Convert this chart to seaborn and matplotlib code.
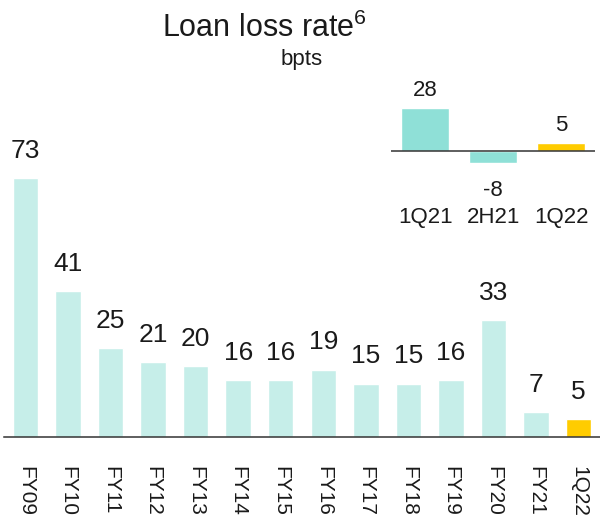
import pandas as pd
import matplotlib
matplotlib.use("Agg")
import matplotlib.pyplot as plt
import seaborn as sns

# data
periods = ["FY09", "FY10", "FY11", "FY12", "FY13", "FY14", "FY15", "FY16",
           "FY17", "FY18", "FY19", "FY20", "FY21", "1Q22"]
loss_rate = [73, 41, 25, 21, 20, 16, 16, 19, 15, 15, 16, 33, 7, 5]

recent_periods = ["1Q21", "2H21", "1Q22"]
recent_rate = [28, -8, 5]

sns.set_theme(style="white")
plt.rcParams["font.family"] = ["Liberation Sans", "DejaVu Sans"]
plt.rcParams["mathtext.fontset"] = "custom"
plt.rcParams["mathtext.rm"] = "Liberation Sans"
plt.rcParams["mathtext.default"] = "regular"

LIGHT = "#C6EEE9"
TEAL = "#8FE0D7"
YELLOW = "#FFCC00"
INK = "#1a1a1a"

fig = plt.figure(figsize=(6, 5.21), dpi=100)

# main chart
ax = fig.add_axes([0.0067, 0.1612, 0.9933, 0.6468])
df = pd.DataFrame({"period": periods, "rate": loss_rate})
cols = [LIGHT] * (len(periods) - 1) + [YELLOW]
sns.barplot(data=df, x="period", y="rate", hue="period", palette=cols,
            legend=False, width=0.6, saturation=1, ax=ax)
ax.set_xlim(-0.5, len(periods) - 0.5)
ax.set_ylim(0, 94.9)
for i, v in enumerate(loss_rate):
    ax.annotate(str(v), (i, v), xytext=(0, 11), textcoords="offset points",
                ha="center", va="bottom", fontsize=19, color=INK)
ax.set_xlabel("")
ax.set_ylabel("")
ax.set_yticks([])
ax.tick_params(axis="x", length=0, pad=21, labelsize=15, labelcolor=INK)
for lab in ax.get_xticklabels():
    lab.set_rotation(270)
sns.despine(ax=ax, left=True, top=True, right=True)
ax.spines["bottom"].set_color("#333333")
ax.spines["bottom"].set_linewidth(1.1)
ax.patch.set_alpha(0)

# inset with recent periods
ax2 = fig.add_axes([0.652, 0.675, 0.34, 0.129])
df2 = pd.DataFrame({"period": recent_periods, "rate": recent_rate})
sns.barplot(data=df2, x="period", y="rate", hue="period",
            palette=[TEAL, TEAL, YELLOW], legend=False, width=0.7,
            saturation=1, ax=ax2)
ax2.set_xlim(-0.5, 2.5)
ax2.set_ylim(-12, 32)
for i, v in enumerate(recent_rate):
    off = 5 if v >= 0 else -12
    ax2.annotate(str(v), (i, v), xytext=(0, off), textcoords="offset points",
                 ha="center", va="bottom" if v >= 0 else "top",
                 fontsize=16, color=INK)
ax2.axhline(0, color="#333333", lw=1.1)
ax2.set_xlabel("")
ax2.set_ylabel("")
ax2.set_yticks([])
ax2.tick_params(axis="x", length=0, pad=27, labelsize=16, labelcolor=INK)
for s in ax2.spines.values():
    s.set_visible(False)
ax2.patch.set_alpha(0)

fig.text(0.441, 0.929, "Loan loss rate$^{6}$", ha="center", va="baseline",
         fontsize=22, color=INK)
fig.text(0.502, 0.875, "bpts", ha="center", va="baseline", fontsize=16,
         color=INK)

fig.savefig("out.png", dpi=100)
